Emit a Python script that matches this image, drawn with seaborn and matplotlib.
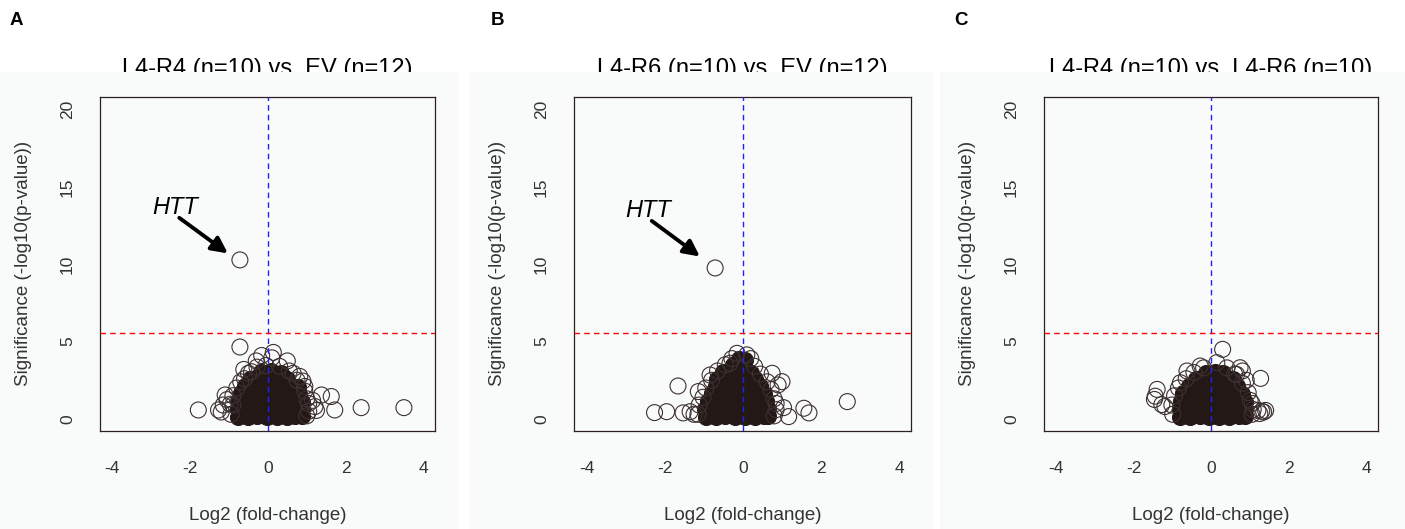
import numpy as np
import pandas as pd
import matplotlib
matplotlib.use('Agg')
import matplotlib.pyplot as plt
from matplotlib.patches import Rectangle
import seaborn as sns

# panel text
panel_letters = ['A', 'B', 'C']
titles = ['L4-R4 (n=10) vs. EV (n=12)',
          'L4-R6 (n=10) vs. EV (n=12)',
          'L4-R4 (n=10) vs. L4-R6 (n=10)']
x_ticks = [-4, -2, 0, 2, 4]
y_ticks = [0, 5, 10, 15, 20]
sig_cutoff = 5.55

# dense middle of each volcano
core_a = [(-0.77, 0.15), (-0.52, 0.12), (-0.27, 0.16), (-0.02, 0.14), (0.23, 0.15), (0.48, 0.13), (0.70, 0.16), (0.88, 0.18),
          (-0.78, 0.65), (-0.53, 0.62), (-0.28, 0.66), (-0.03, 0.64), (0.22, 0.65), (0.47, 0.63), (0.70, 0.66), (0.88, 0.64),
          (-0.76, 1.15), (-0.51, 1.12), (-0.26, 1.16), (-0.01, 1.14), (0.24, 1.15), (0.49, 1.13), (0.72, 1.16), (0.87, 1.12),
          (-0.70, 1.65), (-0.45, 1.62), (-0.20, 1.66), (0.05, 1.64), (0.30, 1.65), (0.55, 1.63), (0.80, 1.60),
          (-0.60, 2.15), (-0.35, 2.12), (-0.10, 2.16), (0.15, 2.14), (0.40, 2.15), (0.62, 2.12), (0.78, 2.05),
          (-0.45, 2.60), (-0.20, 2.62), (0.05, 2.65), (0.30, 2.60), (0.50, 2.55),
          (-0.18, 3.05), (0.08, 3.10), (0.33, 3.00)]
core_b = [(-0.95, 0.15), (-0.70, 0.12), (-0.45, 0.16), (-0.20, 0.14), (0.05, 0.15), (0.30, 0.13), (0.55, 0.16), (0.65, 0.18),
          (-0.97, 0.65), (-0.72, 0.62), (-0.47, 0.66), (-0.22, 0.64), (0.03, 0.65), (0.28, 0.63), (0.53, 0.66), (0.65, 0.64),
          (-0.90, 1.15), (-0.65, 1.12), (-0.40, 1.16), (-0.15, 1.14), (0.10, 1.15), (0.35, 1.13), (0.60, 1.16),
          (-0.80, 1.65), (-0.55, 1.62), (-0.30, 1.66), (-0.05, 1.64), (0.20, 1.65), (0.45, 1.63), (0.55, 1.60),
          (-0.68, 2.15), (-0.43, 2.12), (-0.18, 2.16), (0.07, 2.14), (0.32, 2.15), (0.45, 2.12),
          (-0.65, 2.60), (-0.40, 2.62), (-0.15, 2.65), (0.10, 2.60), (0.30, 2.55),
          (-0.50, 3.05), (-0.25, 3.08), (0.00, 3.05), (0.20, 3.00),
          (-0.25, 3.50), (0.00, 3.52),
          (-0.10, 3.85), (0.05, 3.82)]
core_c = [(-0.80, 0.15), (-0.55, 0.12), (-0.30, 0.16), (-0.05, 0.14), (0.20, 0.15), (0.45, 0.13), (0.70, 0.16), (0.88, 0.18),
          (-0.82, 0.65), (-0.57, 0.62), (-0.32, 0.66), (-0.07, 0.64), (0.18, 0.65), (0.43, 0.63), (0.68, 0.66), (0.88, 0.64),
          (-0.78, 1.15), (-0.53, 1.12), (-0.28, 1.16), (-0.03, 1.14), (0.22, 1.15), (0.47, 1.13), (0.72, 1.16), (0.86, 1.12),
          (-0.72, 1.65), (-0.47, 1.62), (-0.22, 1.66), (0.03, 1.64), (0.28, 1.65), (0.53, 1.63), (0.78, 1.60),
          (-0.58, 2.15), (-0.33, 2.12), (-0.08, 2.16), (0.17, 2.14), (0.42, 2.15), (0.65, 2.12),
          (-0.40, 2.60), (-0.15, 2.62), (0.10, 2.65), (0.35, 2.60), (0.55, 2.55),
          (-0.15, 3.00), (0.10, 3.05), (0.30, 2.98)]

# sparse genes drawn as open circles (HTT first in A and B)
edge_a = [(-0.72, 10.28), (-0.72, 4.65), (0.14, 4.30), (-0.16, 4.10), (0.10, 3.95), (0.50, 3.75), (-0.30, 3.75),
          (-0.50, 2.95), (-0.60, 2.60), (0.82, 2.75), (0.90, 2.45), (0.95, 2.10), (1.38, 1.55), (1.63, 1.45),
          (1.72, 0.58), (1.21, 0.80), (1.25, 0.55), (1.05, 1.00), (2.40, 0.73), (3.50, 0.73), (-1.10, 1.55),
          (-1.05, 1.25), (-1.27, 0.58), (-1.20, 0.45), (-1.79, 0.58), (-0.90, 0.90), (-0.62, 3.20),
          (-0.95, 0.30), (-0.97, 0.95), (-0.90, 1.50), (-0.80, 2.00), (-0.70, 2.40), (-0.42, 3.05), (-0.28, 3.35),
          (0.30, 3.40), (0.55, 3.10), (0.75, 2.50), (0.95, 1.80), (1.00, 1.30), (1.05, 0.50), (1.00, 0.20),
          (-1.15, 0.90), (1.15, 1.20), (0.65, 2.95), (-0.05, 3.45)]
edge_b = [(-0.71, 9.76), (-2.26, 0.41), (-1.95, 0.47), (-1.66, 2.13), (-1.53, 0.39), (-1.35, 0.47), (-1.14, 1.77),
          (2.67, 1.12), (1.56, 0.69), (1.69, 0.39), (1.17, 0.15), (1.04, 0.73), (1.00, 2.41), (0.75, 2.95),
          (-0.15, 4.24), (0.10, 4.14), (-0.33, 3.60), (-0.84, 2.84), (-1.25, 0.30), (0.85, 1.00), (0.90, 2.20),
          (-1.15, 0.30), (-1.12, 0.90), (-1.02, 1.40), (-0.95, 2.00), (-0.80, 2.50), (-0.65, 3.10), (-0.45, 3.50),
          (-0.28, 3.90), (0.20, 3.90), (0.30, 3.40), (0.45, 2.90), (0.62, 2.40), (0.72, 1.90), (0.80, 1.30),
          (0.85, 0.60), (0.80, 0.20)]
edge_c = [(0.29, 4.50), (1.27, 2.62), (0.74, 3.31), (0.80, 3.10), (-0.63, 3.10), (0.14, 3.64), (-1.40, 1.91),
          (-1.45, 1.47), (-1.28, 0.93), (-1.47, 1.26), (-1.20, 0.80), (-0.80, 2.34), (1.30, 0.50), (1.35, 0.45),
          (1.08, 0.61), (1.20, 0.55), (0.65, 2.88), (-0.29, 3.42), (0.90, 2.50), (1.00, 1.20),
          (-1.00, 0.30), (-1.02, 0.90), (-0.95, 1.50), (-0.85, 2.00), (-0.65, 2.60), (-0.45, 3.00), (-0.20, 3.30),
          (0.40, 3.30), (0.60, 2.90), (0.80, 2.30), (0.95, 1.70), (1.05, 1.00), (1.05, 0.30), (1.40, 0.55),
          (1.25, 0.35)]

# HTT label / arrow (text pos, arrow tail, arrow head), None for panel C
htt_a = ((-2.38, 13.7), (-2.28, 13.0), (-1.03, 10.7))
htt_b = ((-2.43, 13.5), (-2.33, 12.8), (-1.10, 10.5))

panels = [(core_a, edge_a, htt_a), (core_b, edge_b, htt_b), (core_c, edge_c, None)]

W, H = 1405, 529
# pixel layout: axes left/right, panel background left/right, letter x
ax_lr = [(100, 435), (574, 911), (1044, 1378)]
bg_lr = [(0, 459), (470, 933), (940, 1405)]
letter_x = [10, 491, 954]
ax_top, ax_bot, bg_top = 96.7, 430.7, 72

bg_col = '#f9fbfb'
ink = '#2b2020'
pt_col = '#231815'

sns.set_style('white')
plt.rcParams['font.family'] = ['Liberation Sans', 'DejaVu Sans']

fig = plt.figure(figsize=(W / 100, H / 100), dpi=100)
fig.patch.set_facecolor('white')

for i, (core, edge, htt) in enumerate(panels):
    bl, br = bg_lr[i]
    fig.add_artist(Rectangle((bl / W, 0), (br - bl) / W, 1 - bg_top / H, transform=fig.transFigure,
                             facecolor=bg_col, edgecolor='none', zorder=-1))
    l, r = ax_lr[i]
    ax = fig.add_axes([l / W, 1 - ax_bot / H, (r - l) / W, (ax_bot - ax_top) / H])
    ax.set_facecolor(bg_col)

    core_df = pd.DataFrame(core, columns=['lfc', 'sig'])
    edge_df = pd.DataFrame(edge, columns=['lfc', 'sig'])
    sns.scatterplot(data=core_df, x='lfc', y='sig', ax=ax, s=132, color=pt_col,
                    edgecolor=pt_col, linewidth=0.8, zorder=2)
    sns.scatterplot(data=edge_df, x='lfc', y='sig', ax=ax, s=132, facecolors='none',
                    edgecolor='#3d3030', linewidth=0.8, zorder=2)

    ax.axvline(0, color='#2020ff', lw=1.0, ls=(0, (4, 3)), zorder=3)
    ax.axhline(sig_cutoff, color='#ff0000', lw=1.0, ls=(0, (4, 3)), zorder=3)

    if htt is not None:
        (tx, ty), tail, head = htt
        ax.text(tx, ty, 'HTT', style='italic', fontsize=17, ha='center', va='center', color='black')
        ax.annotate('', xy=head, xytext=tail,
                    arrowprops=dict(arrowstyle='-|>', lw=2.8, color='black', mutation_scale=24,
                                    shrinkA=0, shrinkB=0))

    ax.set_xlim(-4.32, 4.30)
    ax.set_ylim(-0.76, 20.83)
    ax.set_xticks(x_ticks)
    ax.set_yticks(y_ticks)
    ax.set_xticklabels([str(t) for t in x_ticks])
    ax.set_yticklabels([str(t) for t in y_ticks], rotation=90, va='center')
    ax.tick_params(axis='both', direction='out', length=8, width=0.8, color=ink,
                   labelsize=12.5, labelcolor='#333333')
    ax.tick_params(axis='x', pad=14)
    ax.tick_params(axis='y', pad=10)
    for sp in ax.spines.values():
        sp.set_color(ink)
        sp.set_linewidth(0.9)
    ax.set_xlabel('Log2 (fold-change)', fontsize=13.5, color='#333333', labelpad=22)
    ax.set_ylabel('Significance (-log10(p-value))', fontsize=13.5, color='#333333', labelpad=20)

    fig.text((l + r) / 2 / W, 1 - 75 / H, titles[i], fontsize=17, ha='center', va='baseline',
             color='black', zorder=-2)
    fig.text(letter_x[i] / W, 1 - 25 / H, panel_letters[i], fontsize=13.5, fontweight='bold',
             ha='left', va='baseline', color='black')

fig.savefig('out.png', dpi=100)
